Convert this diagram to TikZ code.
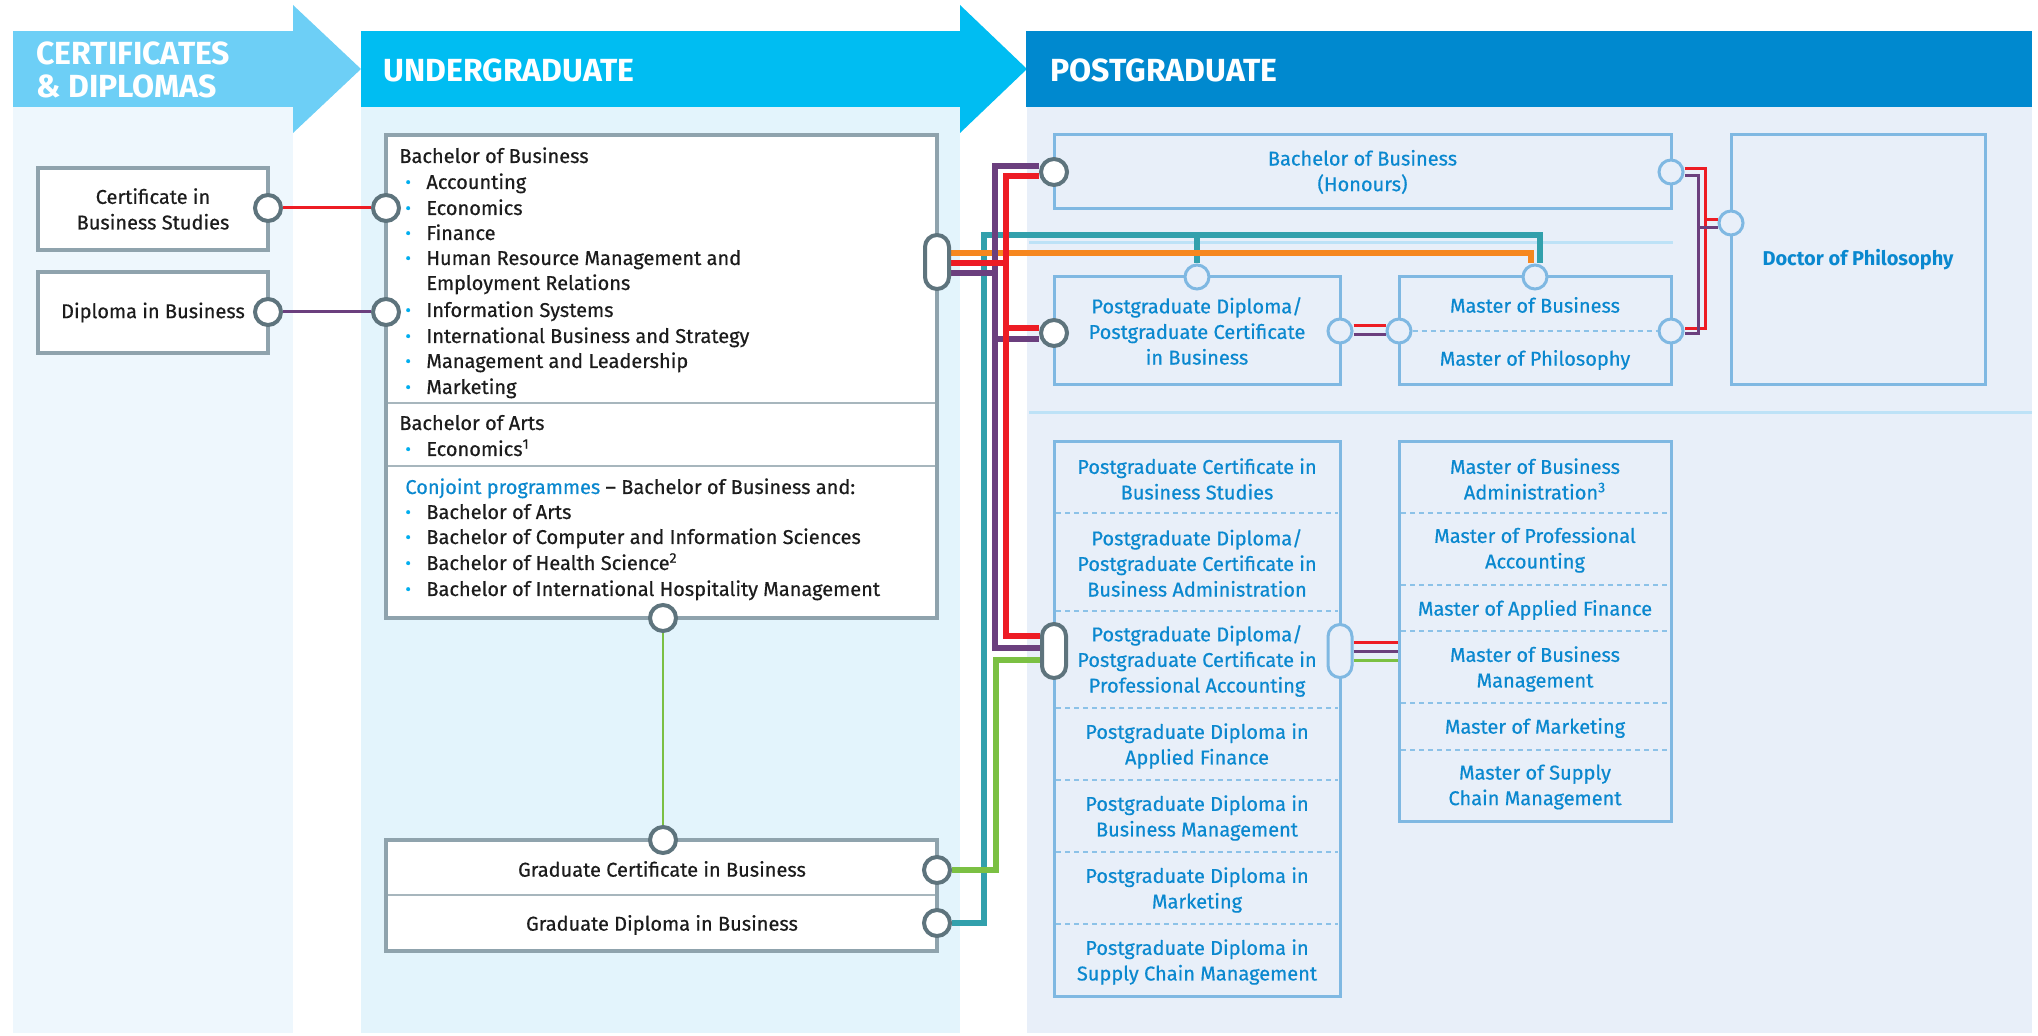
\documentclass[tikz,border=0pt]{standalone}
\usepackage{fontspec}
\setmainfont{Fira Sans}
\newfontfamily\fmed{Fira Sans}[FakeBold=0.5,Ligatures=TeX]
\usetikzlibrary{calc}
\pgfdeclarelayer{bglayer}
\pgfdeclarelayer{linelayer}
\pgfsetlayers{bglayer,linelayer,main}
\definecolor{hcert}{HTML}{6DCFF6}
\definecolor{hug}{HTML}{00BDF2}
\definecolor{hpg}{HTML}{0089CF}
\definecolor{bgcert}{HTML}{EEF7FD}
\definecolor{bgug}{HTML}{E3F4FC}
\definecolor{bgpg}{HTML}{E8EFF9}
\definecolor{gbord}{HTML}{8FA3AD}
\definecolor{gdiv}{HTML}{A7B6BD}
\definecolor{dcirc}{HTML}{5E747D}
\definecolor{lblue}{HTML}{7FB8E2}
\definecolor{dashblue}{HTML}{8CC2E8}
\definecolor{sepblue}{HTML}{BDE2F7}
\definecolor{txtblue}{HTML}{0A88CF}
\definecolor{bulc}{HTML}{00AEEF}
\definecolor{lred}{HTML}{ED1C24}
\definecolor{lpur}{HTML}{6B3F7E}
\definecolor{lgrn}{HTML}{7BC043}
\definecolor{lorg}{HTML}{F6871F}
\definecolor{lteal}{HTML}{32A0AC}
\definecolor{txtk}{HTML}{1C1C1C}
\newcommand\bul{\makebox[10.5pt][l]{\textcolor{bulc}{\raisebox{0.1ex}{\scalebox{0.85}{\textbullet}}}}}
\newcommand\bulsp{\makebox[10.5pt]{}}
\newcommand\rbox[7]{\node[#2, minimum width={(#5-#3)*0.5pt}, minimum height={(#6-#4)*0.5pt}] (#1) at ({(#3+#5)/2},{(#4+#6)/2}) {#7};}
\begin{document}
\begin{tikzpicture}[x=0.5pt,y=-0.5pt,
  gbox/.style={draw=gbord, line width=2pt, fill=white, inner sep=0pt, text=txtk, align=center, font=\fmed\fontsize{10}{12.8}\selectfont},
  bbox/.style={draw=lblue, line width=1.5pt, fill=bgpg, inner sep=0pt, text=txtblue, align=center, font=\fmed\fontsize{10}{12.8}\selectfont},
  dc/.style={circle, draw=dcirc, line width=2pt, fill=white, minimum size=13pt, inner sep=0pt},
  lc/.style={circle, draw=lblue, line width=1.5pt, fill=bgpg, minimum size=12pt, inner sep=0pt},
  dpill/.style={rectangle, rounded corners=6pt, draw=dcirc, line width=2pt, fill=white, minimum width=12pt, minimum height=27pt, inner sep=0pt},
  lpill/.style={rectangle, rounded corners=6pt, draw=lblue, line width=1.5pt, fill=bgpg, minimum width=12pt, minimum height=26.5pt, inner sep=0pt},
  wide/.style={line width=3pt},
  thinl/.style={line width=1.5pt},
  ltxt/.style={anchor=base west, inner sep=0pt, text=txtk, font=\fmed\fontsize{10}{12.8}\selectfont},
  btxt/.style={inner sep=0pt, text=txtblue, align=center, font=\fmed\fontsize{10}{12.8}\selectfont},
  htxt/.style={inner sep=0pt, text=white, align=left, font=\fontsize{16}{16.5}\selectfont\bfseries},
  dashdiv/.style={draw=dashblue, line width=0.8pt, dash pattern=on 2.5pt off 2pt}
]
\useasboundingbox (0,0) rectangle (2038,1036);
% ---------- backgrounds and headers
\begin{pgfonlayer}{bglayer}
\fill[white] (0,0) rectangle (2038,1036);
\fill[bgcert] (13,107) rectangle (293,1033);
\fill[bgug] (361,107) rectangle (960,1033);
\fill[bgpg] (1027,107) rectangle (2032,1033);
\fill[hcert] (13,31) rectangle (293,107);
\fill[hcert] (293,5) -- (361,69) -- (293,133) -- cycle;
\fill[hug] (361,31) rectangle (960,107);
\fill[hug] (960,5) -- (1027,69) -- (960,133) -- cycle;
\fill[hpg] (1026,31) rectangle (2032,107);
\draw[sepblue, line width=1.5pt] (1029,243) -- (1673,243);
\draw[sepblue, line width=1.5pt] (1029,413) -- (2032,413);
\end{pgfonlayer}
\node[htxt, anchor=west] (hcert) at (36,70) {CERTIFICATES\\\& DIPLOMAS};
\node[htxt, anchor=west] (hug) at (383,70) {UNDERGRADUATE};
\node[htxt, anchor=west] (hpg) at (1050,70) {POSTGRADUATE};
% ---------- certificates column
\rbox{cert}{gbox}{38}{168}{268}{250}{Certificate in\\Business Studies}
\rbox{dipl}{gbox}{38}{272}{268}{353}{Diploma in Business}
% ---------- undergraduate column
\rbox{ug}{gbox}{386}{135}{937}{618}{}
\draw[gdiv, line width=1pt] (388,403) -- (935,403);
\draw[gdiv, line width=1pt] (388,466) -- (935,466);
\node[ltxt] (u0) at (399,163) {Bachelor of Business};
\node[ltxt] (u1) at (405,189) {\bul Accounting};
\node[ltxt] (u2) at (405,215) {\bul Economics};
\node[ltxt] (u3) at (405,240) {\bul Finance};
\node[ltxt] (u4) at (405,265) {\bul Human Resource Management and};
\node[ltxt] (u5) at (405,290) {\bulsp Employment Relations};
\node[ltxt] (u6) at (405,317) {\bul Information Systems};
\node[ltxt] (u7) at (405,343) {\bul International Business and Strategy};
\node[ltxt] (u8) at (405,368) {\bul Management and Leadership};
\node[ltxt] (u9) at (405,394) {\bul Marketing};
\node[ltxt] (a0) at (399,430) {Bachelor of Arts};
\node[ltxt] (a1) at (405,456) {\bul Economics\textsuperscript{1}};
\node[ltxt] (c0) at (405,494) {\textcolor{txtblue}{Conjoint programmes} \textendash\ Bachelor of Business and:};
\node[ltxt] (c1) at (405,519) {\bul Bachelor of Arts};
\node[ltxt] (c2) at (405,544) {\bul Bachelor of Computer and Information Sciences};
\node[ltxt] (c3) at (405,570) {\bul Bachelor of Health Science\textsuperscript{2}};
\node[ltxt] (c4) at (405,596) {\bul Bachelor of International Hospitality Management};
\rbox{gr}{gbox}{386}{840}{937}{951}{}
\draw[gdiv, line width=1pt] (388,895) -- (935,895);
\node[ltxt, anchor=center] (gr1) at (662,869) {Graduate Certificate in Business};
\node[ltxt, anchor=center] (gr2) at (662,925) {Graduate Diploma in Business};
% ---------- postgraduate column
\rbox{bobh}{bbox}{1054}{135}{1671}{209}{Bachelor of Business\\(Honours)}
\rbox{pgd}{bbox}{1054}{277}{1340}{385}{Postgraduate Diploma/\\Postgraduate Certificate\\in Business}
\rbox{mob}{bbox}{1399}{277}{1671}{385}{}
\node[btxt] (mob1) at (1535,305) {Master of Business};
\node[btxt] (mob2) at (1535,360) {Master of Philosophy};
\rbox{phd}{bbox}{1731}{135}{1985}{385}{\normalfont\fontsize{10}{12.8}\selectfont\bfseries Doctor of Philosophy}
\rbox{pgc}{bbox}{1054}{442}{1340}{996}{}
\rbox{mc}{bbox}{1399}{442}{1671}{821}{}
\foreach \yy in {513,611,708,780,852,924} \draw[dashdiv] (1056,\yy) -- (1338,\yy);
\foreach \yy in {513,585,631,703,750} \draw[dashdiv] (1401,\yy) -- (1669,\yy);
\node[btxt] (p1) at (1197,479) {Postgraduate Certificate in\\Business Studies};
\node[btxt] (p2) at (1197,563) {Postgraduate Diploma/\\Postgraduate Certificate in\\Business Administration};
\node[btxt] (p3) at (1197,661) {Postgraduate Diploma/\\Postgraduate Certificate in\\Professional Accounting};
\node[btxt] (p4) at (1197,746) {Postgraduate Diploma in\\Applied Finance};
\node[btxt] (p5) at (1197,818) {Postgraduate Diploma in\\Business Management};
\node[btxt] (p6) at (1197,890) {Postgraduate Diploma in\\Marketing};
\node[btxt] (p7) at (1197,962) {Postgraduate Diploma in\\Supply Chain Management};
\node[btxt] (m1) at (1535,479) {Master of Business\\Administration\textsuperscript{3}};
\node[btxt] (m2) at (1535,550) {Master of Professional\\Accounting};
\node[btxt] (m3) at (1535,610) {Master of Applied Finance};
\node[btxt] (m4) at (1535,669) {Master of Business\\Management};
\node[btxt] (m5) at (1535,728) {Master of Marketing};
\node[btxt] (m6) at (1535,787) {Master of Supply\\Chain Management};
% ---------- connector nodes
\node[dc] (cA) at (268,208) {};
\node[dc] (cB) at (386,208) {};
\node[dc] (dA) at (268,312) {};
\node[dc] (dB) at (386,312) {};
\node[dpill] (ugP) at (937,262) {};
\node[dc] (ugBot) at (663,618) {};
\node[dc] (grTop) at (663,840) {};
\node[dc] (grC) at (937,870) {};
\node[dc] (grD) at (937,923) {};
\node[dc] (hL) at (1054,172) {};
\node[lc] (hR) at (1671,172) {};
\node[dc] (pdL) at (1054,333) {};
\node[lc] (pdR) at (1340,331) {};
\node[lc] (pdT) at (1197,277) {};
\node[lc] (mbL) at (1399,331) {};
\node[lc] (mbR) at (1671,331) {};
\node[lc] (mbT) at (1535,277) {};
\node[lc] (phL) at (1731,223) {};
\node[dpill] (pgPL) at (1054,651) {};
\node[lpill] (pgPR) at (1340,651) {};
\draw[dashdiv] (mbL.east) -- (mbR.west);
% ---------- connectors
\coordinate (tealTop) at (984,235);
\coordinate (redTop) at (1006,176);
\coordinate (purTop) at (995,166);
\coordinate (grnMid) at (996,660);
\coordinate (phRed) at (1705,250);
\coordinate (phPur) at (1698,250);
\coordinate (pdLr) at ([yshift=2.5pt]pdL.west);
\coordinate (pdLp) at ([yshift=-3pt]pdL.west);
\coordinate (q1) at ([yshift=4.5pt]pgPR.east);
\coordinate (q2) at (pgPR.east);
\coordinate (q3) at ([yshift=-4.5pt]pgPR.east);
\begin{pgfonlayer}{linelayer}
\draw[lred, thinl] (cA) -- (cB);
\draw[lpur, thinl] (dA) -- (dB);
\draw[lgrn, line width=1pt] (ugBot) -- (grTop);
\draw[wide, lteal] (grD.east) -| (tealTop) -| ([xshift=2.5pt]mbT.north);
\draw[wide, lteal] (tealTop -| pdT) -- (pdT.north);
\draw[wide, lgrn] (grC.east) -| (grnMid) -- ([yshift=-4.5pt]pgPL.west);
\draw[wide, lorg] ([yshift=4.5pt]ugP.east) -| ([xshift=-2pt]mbT.north);
\draw[wide, lpur] ([yshift=-5.5pt]ugP.east) -| (purTop) -- ([yshift=3pt]hL.west);
\draw[wide, lpur] (purTop) |- ([yshift=1.5pt]pgPL.west);
\draw[wide, lpur] (purTop) |- (pdLp);
\draw[wide, lred] ([yshift=-0.5pt]ugP.east) -| (redTop) -- ([yshift=-2pt]hL.west);
\draw[wide, lred] (redTop) |- ([yshift=7.5pt]pgPL.west);
\draw[wide, lred] (redTop) |- (pdLr);
\draw[thinl, lred] ([yshift=2.5pt]pdR.east) -- ([yshift=2.5pt]mbL.west);
\draw[thinl, lpur] ([yshift=-2pt]pdR.east) -- ([yshift=-2pt]mbL.west);
\draw[thinl, lred] (q1) -- (q1 -| mc.west);
\draw[thinl, lpur] (q2) -- (q2 -| mc.west);
\draw[thinl, lgrn] (q3) -- (q3 -| mc.west);
\draw[thinl, lred] ([yshift=1.5pt]hR.east) -| (phRed) |- ([yshift=1pt]mbR.east);
\draw[thinl, lred] (phRed) |- ([yshift=1.5pt]phL.west);
\draw[thinl, lpur] ([yshift=-2pt]hR.east) -| (phPur) |- ([yshift=-1.5pt]mbR.east);
\draw[thinl, lpur] (phPur) |- ([yshift=-2.5pt]phL.west);
\end{pgfonlayer}
\end{tikzpicture}
\end{document}
